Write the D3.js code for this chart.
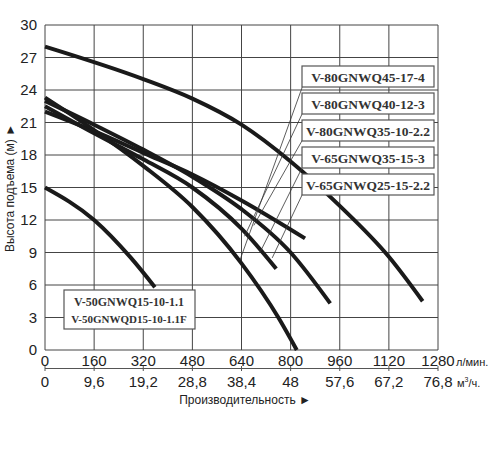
<!DOCTYPE html><html><head><meta charset="utf-8"><script src="https://cdn.jsdelivr.net/npm/d3@7"></script>
<style>body{margin:0;background:#fff}</style></head><body>
<svg id="c" width="500" height="450" font-family="Arial, 'Liberation Sans', sans-serif"></svg>
<script>
const xTicks=[0,160,320,480,640,800,960,1120,1280];
const m3Labels=["0","9,6","19,2","28,8","38,4","48","57,6","67,2","76,8"];
const yTicks=[0,3,6,9,12,15,18,21,24,27,30];
const c45=[[0,28],[320,25],[480,23.2],[640,20.8],[800,17.4],[960,13.3],[1120,8.6],[1230,4.5]];
const cA=[[0,22],[160,20.2],[320,18.2],[480,16.2],[640,13.8],[847,10.3]];
const cB=[[0,22.5],[160,20],[320,17.6],[480,15],[640,11.2],[753,7.5]];
const cC=[[0,23],[160,20.8],[320,18.5],[480,16],[640,13],[800,9],[929,4.3]];
const cD=[[0,23.3],[160,20.3],[320,17],[480,13.2],[640,8],[760,3],[820,0]];
const c15=[[0,15],[160,12],[280,8.5],[358,5.8]];
const curves=[c45,cA,cB,cC,cD,c15];
const labels=["V-80GNWQ45-17-4","V-80GNWQ40-12-3","V-80GNWQ35-10-2.2","V-65GNWQ35-15-3","V-65GNWQ25-15-2.2"];
const leaderTargets=[[635,8.3],[650,10.5],[680,11.5],[700,9],[740,8.5]];
const smallLabels=["V-50GNWQ15-10-1.1","V-50GNWQD15-10-1.1F"];
const svg=d3.select("#c");
const x=d3.scaleLinear().domain([0,1280]).range([45,438]);
const y=d3.scaleLinear().domain([0,30]).range([350,25]);
const g=svg.append("g");
const serif="'Liberation Serif', 'DejaVu Serif', serif";
xTicks.forEach(t=>g.append("line").attr("x1",x(t)).attr("x2",x(t)).attr("y1",y(0)).attr("y2",y(30)).attr("stroke","#444").attr("stroke-width",1));
yTicks.forEach(t=>g.append("line").attr("x1",x(0)).attr("x2",x(1280)).attr("y1",y(t)).attr("y2",y(t)).attr("stroke","#444").attr("stroke-width",1));
xTicks.forEach(t=>g.append("text").attr("x",x(t)).attr("y",366).attr("text-anchor","middle").attr("font-size",15).attr("fill","#222").text(t));
g.append("text").attr("x",456).attr("y",366).attr("font-size",11).attr("fill","#222").text("л/мин.");
yTicks.forEach(t=>g.append("text").attr("x",37).attr("y",y(t)+5).attr("text-anchor","end").attr("font-size",15).attr("fill","#222").text(t));
g.append("line").attr("x1",x(0)).attr("x2",x(1280)).attr("y1",368.5).attr("y2",368.5).attr("stroke","#555");
xTicks.forEach((t,i)=>{g.append("line").attr("x1",x(t)).attr("x2",x(t)).attr("y1",366).attr("y2",371).attr("stroke","#555");
g.append("text").attr("x",x(t)).attr("y",387).attr("text-anchor","middle").attr("font-size",15).attr("fill","#222").text(m3Labels[i]);});
g.append("text").attr("x",457).attr("y",387).attr("font-size",11).attr("fill","#222").html("м<tspan dy='-5' font-size='7'>3</tspan><tspan dy='5'>/ч.</tspan>");
g.append("text").attr("x",245).attr("y",404).attr("text-anchor","middle").attr("font-size",12).attr("fill","#222").text("Производительность ►");
g.append("text").attr("transform","translate(14,188) rotate(-90)").attr("text-anchor","middle").attr("font-size",12).attr("fill","#222").text("Высота подъема (м) ►");
const line=d3.line().x(d=>x(d[0])).y(d=>y(d[1])).curve(d3.curveMonotoneX);
curves.forEach(cv=>g.append("path").attr("d",line(cv)).attr("fill","none").attr("stroke","#1a1a1a").attr("stroke-width",4));
const boxY=[66,93,120,147,174];
labels.forEach((l,i)=>{
 g.append("line").attr("x1",303).attr("y1",boxY[i]+19).attr("x2",x(leaderTargets[i][0])).attr("y2",y(leaderTargets[i][1])).attr("stroke","#333").attr("stroke-width",0.8);
 g.append("rect").attr("x",302).attr("y",boxY[i]).attr("width",132).attr("height",21).attr("fill","#fff").attr("stroke","#555").attr("stroke-width",1.2);
 g.append("text").attr("x",368).attr("y",boxY[i]+15.5).attr("text-anchor","middle").attr("font-family",serif).attr("font-weight","bold").attr("font-size",13.5).attr("fill","#333").text(l);
});
g.append("rect").attr("x",64).attr("y",290).attr("width",131).attr("height",39).attr("fill","#fff").attr("stroke","#555").attr("stroke-width",1.2);
smallLabels.forEach((l,i)=>g.append("text").attr("x",129).attr("y",306+i*17).attr("text-anchor","middle").attr("font-family",serif).attr("font-weight","bold").attr("font-size",i?11:12).attr("fill","#333").text(l));
</script></body></html>
